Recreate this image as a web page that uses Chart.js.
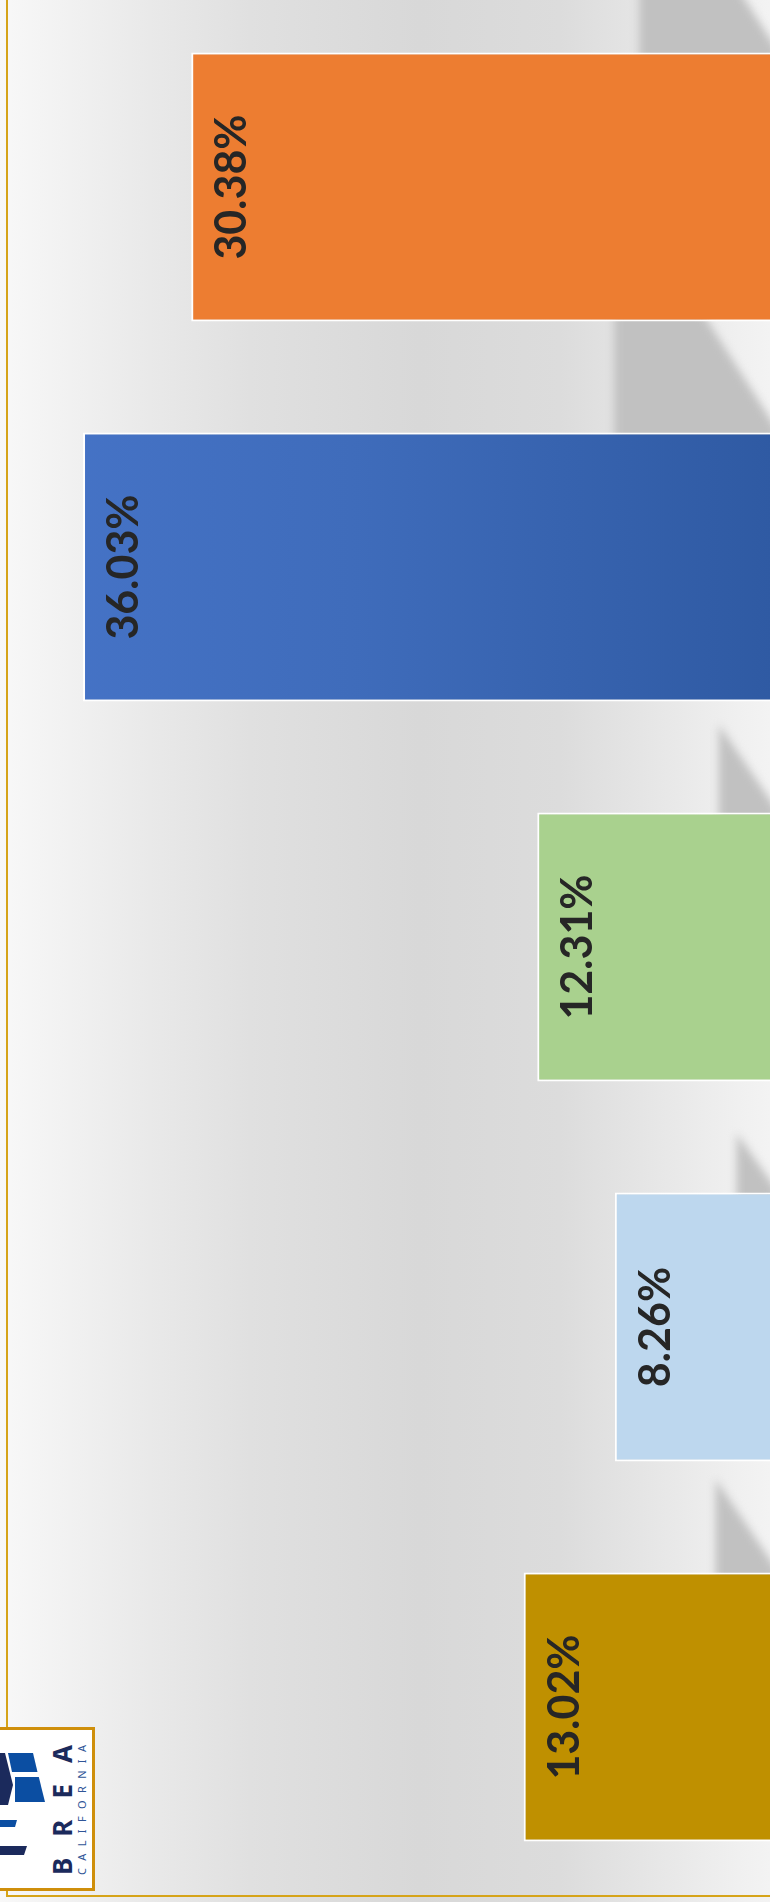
<!DOCTYPE html>
<html>
<head>
<meta charset="utf-8">
<script src="https://cdn.jsdelivr.net/npm/chart.js@4"></script>
<style>
    html, body { margin: 0; padding: 0; }
    body { width: 770px; height: 1902px; overflow: hidden; position: relative;
        background: linear-gradient(to right, #f8f8f8 0%, #f3f3f3 6.5%, #e9e9e9 19.5%, #e0e0e0 32.5%, #d8d8d8 54.5%, #dcdcdc 72.7%, #e6e6e6 84.4%, #f0f0f0 96%, #f3f3f3 100%); }
    #frame { position: absolute; left: 6px; top: 0; width: 770px; height: 1895px;
        border-left: 2px solid #d6a419; border-bottom: 2px solid #d6a419; }
    #chart { position: absolute; left: 0; top: -3px; }
    #logo { position: absolute; left: 0; top: 1727px; }
</style>
</head>
<body>
<div id="frame"></div>
<canvas id="chart" width="773" height="1900"></canvas>
<svg id="logo" width="95" height="164" viewBox="0 0 95 164">
    <rect x="-5" y="1.5" width="98.5" height="161" fill="#ffffff" stroke="#cf8f0b" stroke-width="3"/>
    <polygon points="8,26 33,26 37.5,45 12,45" fill="#0b4ea2"/>
    <polygon points="15,50 38.8,50 45,75 15,75" fill="#0b4ea2"/>
    <polygon points="0,26 5,26 13,58 8,78 0,78" fill="#1b2a5c"/>
    <polygon points="0,93 17,93 15,100 0,100" fill="#0b4ea2"/>
    <polygon points="0,119 27,119 24,128 0,128" fill="#1b2a5c"/>
    <text transform="translate(72,148) rotate(-90)" x="0" y="0" textLength="130" lengthAdjust="spacing"
        font-family="Noto Sans" font-weight="bold" font-size="26" fill="#1b2a5c">BREA</text>
    <text transform="translate(86,148) rotate(-90)" x="0" y="0" textLength="130" lengthAdjust="spacing"
        font-family="Noto Sans" font-size="11" fill="#2f5597">CALIFORNIA</text>
</svg>
<script>
// valores (de cima para baixo)
const categories = ['Categoria 1', 'Categoria 2', 'Categoria 3', 'Categoria 4', 'Categoria 5'];
const percentages = [30.38, 36.03, 12.31, 8.26, 13.02];
const axisMin = 0;
const axisMax = 40;

const barColors = ['#ed7d31', null, '#a9d18e', '#bdd7ee', '#bf9000'];

// sombra inclinada atrás de cada barra
const shadowPlugin = {
    id: 'barShadows',
    beforeDatasetsDraw(chart) {
        const ctx = chart.ctx;
        const meta = chart.getDatasetMeta(0);
        ctx.save();
        ctx.filter = 'blur(4px)';
        ctx.fillStyle = '#c1c1c1';
        meta.data.forEach(bar => {
            const len = bar.base - bar.x;
            const w = len * 0.23;
            const h = w * 1.62;
            const top = bar.y - bar.height / 2;
            ctx.beginPath();
            ctx.moveTo(bar.base - w, top - h);
            ctx.lineTo(bar.base + 10, top + 6);
            ctx.lineTo(bar.base + 10, top + 12);
            ctx.lineTo(bar.base - w, top + 12);
            ctx.closePath();
            ctx.fill();
        });
        ctx.restore();
    }
};

// rótulos de valor, girados
const labelPlugin = {
    id: 'valueLabels',
    afterDatasetsDraw(chart) {
        const ctx = chart.ctx;
        const meta = chart.getDatasetMeta(0);
        ctx.save();
        ctx.font = 'bold 43px Lato';
        ctx.fillStyle = '#262626';
        ctx.textAlign = 'center';
        ctx.textBaseline = 'alphabetic';
        meta.data.forEach((bar, i) => {
            ctx.save();
            ctx.translate(bar.x + 55, bar.y);
            ctx.rotate(-Math.PI / 2);
            ctx.fillText(percentages[i].toFixed(2) + '%', 0, 0);
            ctx.restore();
        });
        ctx.restore();
    }
};

function drawChart() {
    const ctx = document.getElementById('chart').getContext('2d');
    new Chart(ctx, {
        type: 'bar',
        data: {
            labels: categories,
            datasets: [{
                data: percentages,
                backgroundColor: (context) => {
                    const i = context.dataIndex;
                    if (barColors[i]) return barColors[i];
                    const area = context.chart.chartArea;
                    if (!area) return '#4472c4';
                    const g = context.chart.ctx.createLinearGradient(area.left, 0, area.right, 0);
                    g.addColorStop(0, '#4674c8');
                    g.addColorStop(0.45, '#3f6cbb');
                    g.addColorStop(1, '#2f5aa3');
                    return g;
                },
                borderColor: '#ffffff',
                borderWidth: 2,
                borderSkipped: false,
                barPercentage: 0.708,
                categoryPercentage: 1
            }]
        },
        options: {
            indexAxis: 'y',
            responsive: false,
            maintainAspectRatio: false,
            animation: false,
            layout: { padding: { left: 7, right: 0, top: 0, bottom: 0 } },
            scales: {
                x: { min: axisMin, max: axisMax, reverse: true, display: false },
                y: { display: false }
            },
            plugins: {
                legend: { display: false },
                tooltip: { enabled: false }
            }
        },
        plugins: [shadowPlugin, labelPlugin]
    });
}

document.fonts.load('bold 43px Lato').then(drawChart, drawChart);
</script>
</body>
</html>
